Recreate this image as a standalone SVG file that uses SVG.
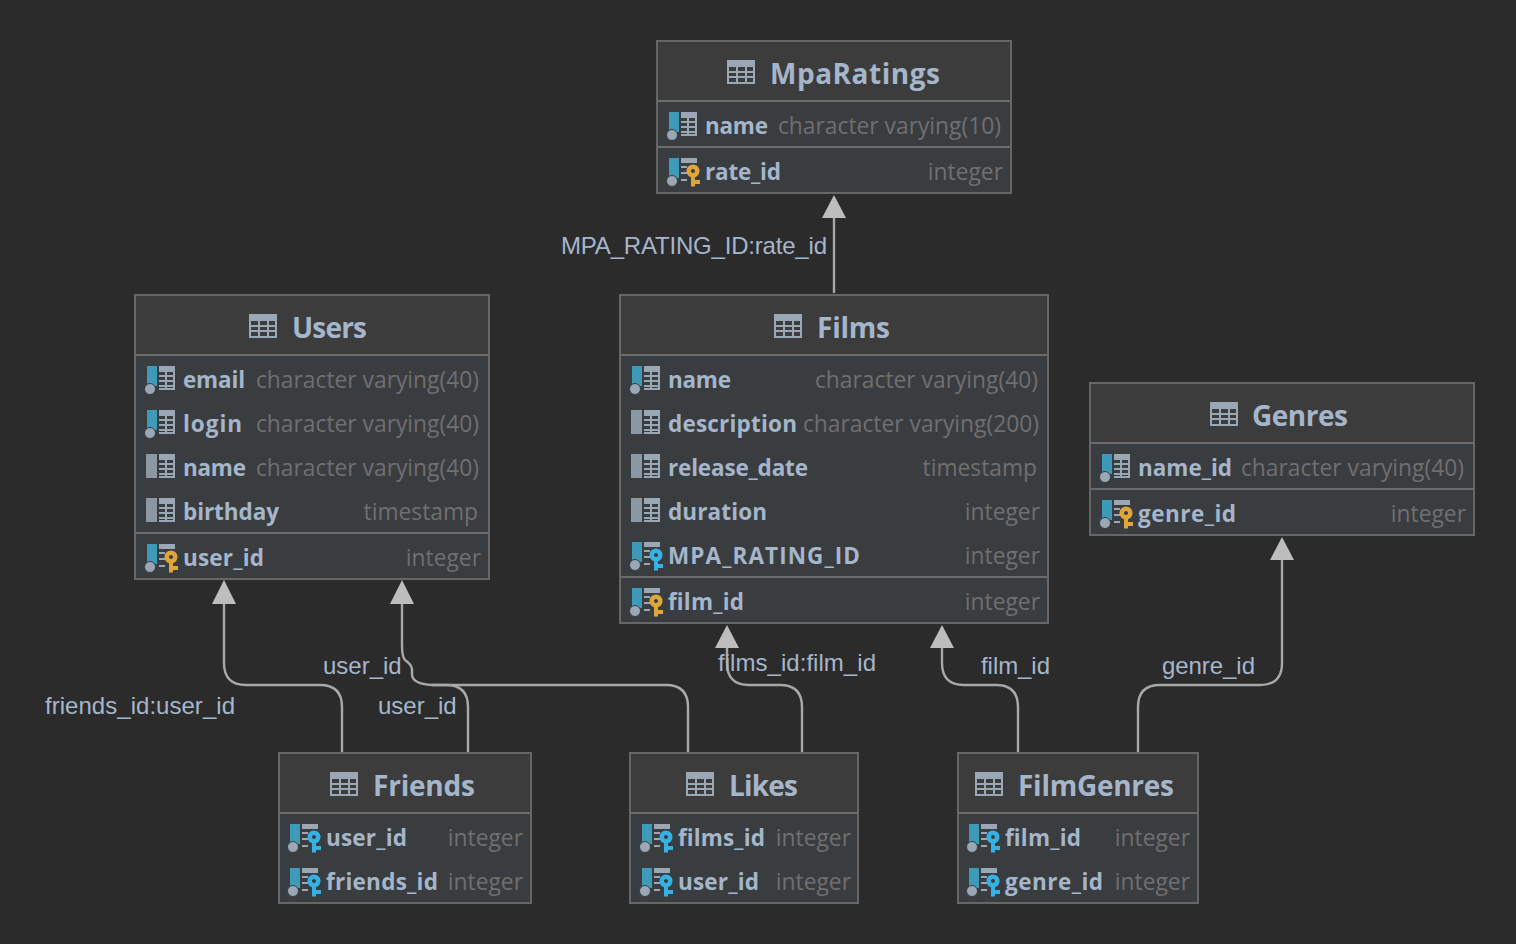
<svg xmlns="http://www.w3.org/2000/svg" width="1516" height="944" viewBox="0 0 1516 944">
<style>
.box{fill:#3a3d40;stroke:#666666;stroke-width:2}
.head{fill:#3c3c3c}
.sep{stroke:#6b6b6b;stroke-width:2;fill:none}
.title{font:700 28px "Open Sans","Noto Sans",sans-serif;fill:#a5b6cb}
.col{font:700 22.5px "Open Sans","Noto Sans",sans-serif;fill:#a5b6cb}
.type{font:400 22.8px "Open Sans","Noto Sans",sans-serif;fill:#6f6f6f;text-anchor:end}
.lbl{font:400 24px "Liberation Sans",Arial,sans-serif;fill:#a5b6cb}
.ln{fill:none;stroke:#a8a8a8;stroke-width:2.4}
.ah{fill:#bdbdbd}
</style>
<defs>
<g id="ti"><rect x="0" y="0" width="28" height="24" fill="#9aa7b4"/><g fill="#3c3c3c"><rect x="2" y="7" width="7" height="4"/><rect x="11" y="7" width="7" height="4"/><rect x="20" y="7" width="6" height="4"/><rect x="2" y="13" width="7" height="3"/><rect x="11" y="13" width="7" height="3"/><rect x="20" y="13" width="6" height="3"/><rect x="2" y="18" width="7" height="4"/><rect x="11" y="18" width="7" height="4"/><rect x="20" y="18" width="6" height="4"/></g></g>
<g id="tbl"><rect x="12" y="0" width="16" height="24" fill="#9aa7b4"/><g fill="#3a3d40"><rect x="12" y="6" width="6" height="3"/><rect x="20" y="6" width="6" height="3"/><rect x="12" y="11" width="6" height="3"/><rect x="20" y="11" width="6" height="3"/><rect x="12" y="16" width="6" height="3"/><rect x="20" y="16" width="6" height="3"/><rect x="12" y="21" width="6" height="1"/><rect x="20" y="21" width="6" height="1"/></g></g>
<g id="tblk"><g fill="#9aa7b4"><rect x="12" y="0" width="16" height="5"/><rect x="12" y="8" width="6" height="2"/><rect x="12" y="14" width="6" height="2"/><rect x="12" y="21" width="6" height="2"/></g></g>
<g id="bar"><rect x="0" y="0" width="10" height="20" fill="#3d9ab8"/><circle cx="3" cy="23" r="5.5" fill="#9aa7b4" stroke="#3a3d40"/></g>
<g id="gbar"><rect x="-1" y="0" width="11" height="24" fill="#8b98a3"/></g>
<path id="key" fill-rule="evenodd" d="M24 6.500a6.500 6.500 0 0 1 2 12.700V22h5v4h-5v2.500h-4V19.200a6.500 6.500 0 0 1 2-12.700ZM24 11a2 2 0 1 0 .01 0Z"/>
<g id="c-idx"><use href="#bar"/><use href="#tbl"/></g>
<g id="c-plain"><use href="#gbar"/><use href="#tbl"/></g>
<g id="c-pk"><use href="#bar"/><use href="#tblk"/><use href="#key" fill="#e0a63a"/></g>
<g id="c-fk"><use href="#bar"/><use href="#tblk"/><use href="#key" fill="#36b1e4"/></g>
</defs>
<rect width="1516" height="944" fill="#2b2b2b"/>
<g id="connectors">
<path class="ln" d="M834 293V216"/>
<path class="ln" d="M342 752V707Q342 685 320 685H246Q224 685 224 663V602"/>
<path class="ln" d="M468 752V707Q468 685 446 685H432Q412 684 412 674V669Q411 664 405 660Q402 657 402 645V602"/>
<path class="ln" d="M688 752V707Q688 685 666 685H432"/>
<path class="ln" d="M802 752V707Q802 685 780 685H749Q727 685 727 663V646"/>
<path class="ln" d="M1018 752V707Q1018 685 996 685H964Q942 685 942 663V646"/>
<path class="ln" d="M1138 752V707Q1138 685 1160 685H1260Q1282 685 1282 663V558"/>
<path class="ah" d="M834 195L846 218H822Z"/>
<path class="ah" d="M224 580L236 604H212Z"/>
<path class="ah" d="M402 580L414 604H390Z"/>
<path class="ah" d="M727 625L739 648H715Z"/>
<path class="ah" d="M942 625L954 648H930Z"/>
<path class="ah" d="M1282 537L1294 560H1270Z"/>
<text class="lbl" x="561" y="254" textLength="266">MPA_RATING_ID:rate_id</text>
<text class="lbl" x="45" y="714" textLength="190">friends_id:user_id</text>
<text class="lbl" x="323" y="674">user_id</text>
<text class="lbl" x="378" y="714">user_id</text>
<text class="lbl" x="718" y="671" textLength="158">films_id:film_id</text>
<text class="lbl" x="981" y="674" textLength="69">film_id</text>
<text class="lbl" x="1162" y="674" textLength="93">genre_id</text>
</g>
<g id="MpaRatings">
<rect class="box" x="657" y="41" width="354" height="152"/><rect class="head" x="658" y="42" width="352" height="59"/>
<path class="sep" d="M658 101H1010M658 147H1010"/>
<use href="#ti" x="727" y="60"/><text class="title" x="770" y="84" textLength="170">MpaRatings</text>
<use href="#c-idx" x="669" y="112"/><text class="col" x="705" y="134" textLength="63">name</text><text class="type" x="1001" y="134">character varying(10)</text>
<use href="#c-pk" x="669" y="158"/><text class="col" x="705" y="180" textLength="76">rate_id</text><text class="type" x="1003" y="180">integer</text>
</g>
<g id="Users">
<rect class="box" x="135" y="295" width="354" height="284"/><rect class="head" x="136" y="296" width="352" height="59"/>
<path class="sep" d="M136 355H488M136 533H488"/>
<use href="#ti" x="249" y="314"/><text class="title" x="292" y="338" textLength="75">Users</text>
<use href="#c-idx" x="147" y="366"/><text class="col" x="183" y="388" textLength="62">email</text><text class="type" x="479" y="388">character varying(40)</text>
<use href="#c-idx" x="147" y="410"/><text class="col" x="183" y="432" textLength="59">login</text><text class="type" x="479" y="432">character varying(40)</text>
<use href="#c-plain" x="147" y="454"/><text class="col" x="183" y="476" textLength="63">name</text><text class="type" x="479" y="476">character varying(40)</text>
<use href="#c-plain" x="147" y="498"/><text class="col" x="183" y="520" textLength="96">birthday</text><text class="type" x="478" y="520">timestamp</text>
<use href="#c-pk" x="147" y="544"/><text class="col" x="183" y="566" textLength="81">user_id</text><text class="type" x="481" y="566">integer</text>
</g>
<g id="Films">
<rect class="box" x="620" y="295" width="428" height="328"/><rect class="head" x="621" y="296" width="426" height="59"/>
<path class="sep" d="M621 355H1047M621 577H1047"/>
<use href="#ti" x="774" y="314"/><text class="title" x="817" y="338" textLength="73">Films</text>
<use href="#c-idx" x="632" y="366"/><text class="col" x="668" y="388" textLength="63">name</text><text class="type" x="1038" y="388">character varying(40)</text>
<use href="#c-plain" x="632" y="410"/><text class="col" x="668" y="432" textLength="129">description</text><text class="type" x="1039" y="432">character varying(200)</text>
<use href="#c-plain" x="632" y="454"/><text class="col" x="668" y="476" textLength="140">release_date</text><text class="type" x="1037" y="476">timestamp</text>
<use href="#c-plain" x="632" y="498"/><text class="col" x="668" y="520" textLength="99">duration</text><text class="type" x="1040" y="520">integer</text>
<use href="#c-fk" x="632" y="542"/><text class="col" x="668" y="564" textLength="192">MPA_RATING_ID</text><text class="type" x="1040" y="564">integer</text>
<use href="#c-pk" x="632" y="588"/><text class="col" x="668" y="610" textLength="76">film_id</text><text class="type" x="1040" y="610">integer</text>
</g>
<g id="Genres">
<rect class="box" x="1090" y="383" width="384" height="152"/><rect class="head" x="1091" y="384" width="382" height="59"/>
<path class="sep" d="M1091 443H1473M1091 489H1473"/>
<use href="#ti" x="1210" y="402"/><text class="title" x="1252" y="426" textLength="96">Genres</text>
<use href="#c-idx" x="1102" y="454"/><text class="col" x="1138" y="476" textLength="94">name_id</text><text class="type" x="1464" y="476">character varying(40)</text>
<use href="#c-pk" x="1102" y="500"/><text class="col" x="1138" y="522" textLength="98">genre_id</text><text class="type" x="1466" y="522">integer</text>
</g>
<g id="Friends">
<rect class="box" x="279" y="753" width="252" height="150"/><rect class="head" x="280" y="754" width="250" height="59"/>
<path class="sep" d="M280 813H530"/>
<use href="#ti" x="330" y="772"/><text class="title" x="373" y="796" textLength="102">Friends</text>
<use href="#c-fk" x="290" y="824"/><text class="col" x="326" y="846" textLength="81">user_id</text><text class="type" x="523" y="846">integer</text>
<use href="#c-fk" x="290" y="868"/><text class="col" x="326" y="890" textLength="112">friends_id</text><text class="type" x="523" y="890">integer</text>
</g>
<g id="Likes">
<rect class="box" x="630" y="753" width="228" height="150"/><rect class="head" x="631" y="754" width="226" height="59"/>
<path class="sep" d="M631 813H857"/>
<use href="#ti" x="686" y="772"/><text class="title" x="729" y="796" textLength="69">Likes</text>
<use href="#c-fk" x="642" y="824"/><text class="col" x="678" y="846" textLength="87">films_id</text><text class="type" x="851" y="846">integer</text>
<use href="#c-fk" x="642" y="868"/><text class="col" x="678" y="890" textLength="81">user_id</text><text class="type" x="851" y="890">integer</text>
</g>
<g id="FilmGenres">
<rect class="box" x="958" y="753" width="240" height="150"/><rect class="head" x="959" y="754" width="238" height="59"/>
<path class="sep" d="M959 813H1197"/>
<use href="#ti" x="975" y="772"/><text class="title" x="1018" y="796" textLength="156">FilmGenres</text>
<use href="#c-fk" x="969" y="824"/><text class="col" x="1005" y="846" textLength="76">film_id</text><text class="type" x="1190" y="846">integer</text>
<use href="#c-fk" x="969" y="868"/><text class="col" x="1005" y="890" textLength="98">genre_id</text><text class="type" x="1190" y="890">integer</text>
</g>
</svg>
